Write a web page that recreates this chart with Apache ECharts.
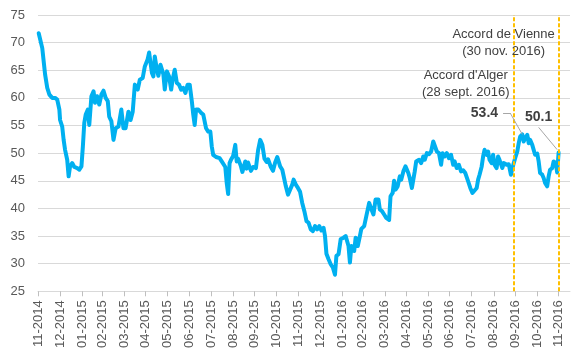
<!DOCTYPE html>
<html><head><meta charset="utf-8">
<script src="https://cdn.jsdelivr.net/npm/echarts@6/dist/echarts.min.js"></script>
<style>html,body{margin:0;padding:0;background:#fff}#c{width:579px;height:351px}</style>
</head><body><div id="c"></div>
<script>
const dates = [
'2014-12-01','2014-12-06','2014-12-08','2014-12-10','2014-12-13','2014-12-16','2014-12-20','2014-12-24','2014-12-27','2014-12-30','2014-12-31',
'2015-01-03','2015-01-05','2015-01-07','2015-01-10','2015-01-12','2015-01-14','2015-01-17','2015-01-20','2015-01-24','2015-01-27','2015-01-30',
'2015-02-01','2015-02-03','2015-02-05','2015-02-08','2015-02-10','2015-02-13','2015-02-16','2015-02-18','2015-02-21','2015-02-24','2015-02-27',
'2015-03-02','2015-03-05','2015-03-08','2015-03-10','2015-03-13','2015-03-16','2015-03-19','2015-03-23','2015-03-25','2015-03-27','2015-03-30',
'2015-04-02','2015-04-06','2015-04-09','2015-04-12','2015-04-15','2015-04-19','2015-04-22','2015-04-26','2015-04-29',
'2015-05-03','2015-05-05','2015-05-09','2015-05-11','2015-05-13','2015-05-16','2015-05-18','2015-05-21','2015-05-25','2015-05-27','2015-05-30',
'2015-06-02','2015-06-05','2015-06-07','2015-06-10','2015-06-13','2015-06-16','2015-06-19','2015-06-22','2015-06-25','2015-06-28',
'2015-07-01','2015-07-04','2015-07-06','2015-07-08','2015-07-10','2015-07-13','2015-07-17','2015-07-20','2015-07-24','2015-07-27','2015-07-30',
'2015-08-01','2015-08-03','2015-08-07','2015-08-12','2015-08-15','2015-08-20','2015-08-22','2015-08-24','2015-08-26','2015-08-28','2015-08-31',
'2015-09-03','2015-09-05','2015-09-07','2015-09-11','2015-09-13','2015-09-17','2015-09-19','2015-09-21','2015-09-25','2015-09-28',
'2015-10-02','2015-10-05','2015-10-08','2015-10-11','2015-10-14','2015-10-17','2015-10-19','2015-10-23','2015-10-26','2015-10-29',
'2015-11-01','2015-11-05','2015-11-08','2015-11-10','2015-11-13','2015-11-16','2015-11-19','2015-11-22','2015-11-24','2015-11-27','2015-11-30',
'2015-12-03','2015-12-06','2015-12-09','2015-12-12','2015-12-15','2015-12-18','2015-12-21','2015-12-24','2015-12-27','2015-12-30',
'2016-01-02','2016-01-05','2016-01-07','2016-01-09','2016-01-12','2016-01-15','2016-01-18','2016-01-21','2016-01-23','2016-01-26','2016-01-29',
'2016-02-02','2016-02-05','2016-02-09','2016-02-11','2016-02-13','2016-02-17','2016-02-19','2016-02-22','2016-02-25','2016-02-27',
'2016-03-02','2016-03-05','2016-03-09','2016-03-12','2016-03-15','2016-03-18','2016-03-22','2016-03-24','2016-03-27','2016-03-30',
'2016-04-02','2016-04-06','2016-04-08','2016-04-11','2016-04-13','2016-04-15','2016-04-18','2016-04-21','2016-04-23','2016-04-26','2016-04-29',
'2016-05-03','2016-05-05','2016-05-08','2016-05-12','2016-05-14','2016-05-18','2016-05-21','2016-05-24','2016-05-26','2016-05-29',
'2016-06-01','2016-06-04','2016-06-07','2016-06-09','2016-06-12','2016-06-15','2016-06-18','2016-06-20','2016-06-23','2016-06-26','2016-06-29',
'2016-07-02','2016-07-05','2016-07-07','2016-07-10','2016-07-13','2016-07-16','2016-07-19','2016-07-22','2016-07-26','2016-07-29',
'2016-08-01','2016-08-03','2016-08-07','2016-08-09','2016-08-11','2016-08-14','2016-08-16','2016-08-18','2016-08-21','2016-08-23','2016-08-25','2016-08-28','2016-08-30',
'2016-09-01','2016-09-04','2016-09-06','2016-09-08','2016-09-12','2016-09-14','2016-09-18','2016-09-21','2016-09-24','2016-09-26','2016-09-28','2016-09-30',
'2016-10-03','2016-10-05','2016-10-07','2016-10-10','2016-10-12','2016-10-14','2016-10-17','2016-10-19','2016-10-21','2016-10-24','2016-10-26','2016-10-28','2016-10-31',
'2016-11-02','2016-11-04','2016-11-07','2016-11-09','2016-11-11','2016-11-14','2016-11-16','2016-11-18','2016-11-21','2016-11-23','2016-11-24','2016-11-26','2016-11-28','2016-11-30'
];
const prices = [
71.7,69.0,66.6,64.2,61.8,60.6,60.0,60.0,59.7,57.9,56.0,
54.8,52.4,50.6,48.8,45.8,47.6,48.2,47.5,47.3,47.0,47.6,
51.2,55.5,57.0,57.9,55.1,60.3,61.2,59.1,60.3,58.8,60.6,
61.3,60.0,59.4,56.6,55.8,52.4,54.5,54.8,55.0,57.9,54.5,
54.5,57.5,56.0,57.5,62.4,61.5,63.3,63.6,65.7,
67.0,68.2,64.5,63.9,67.5,65.1,64.0,66.0,64.3,61.5,64.8,
63.9,61.5,63.3,65.1,62.7,62.4,61.5,61.8,60.9,62.4,
62.4,59.4,57.0,55.1,57.9,57.9,57.3,57.0,54.5,53.9,53.9,
51.2,49.7,49.3,49.1,48.5,47.5,44.6,42.6,48.2,48.8,49.5,
51.5,48.5,49.0,47.6,46.6,48.5,47.2,48.3,46.8,47.5,
47.3,50.5,52.4,51.5,49.0,48.4,48.9,47.5,46.8,48.3,
49.3,47.6,47.0,46.7,44.0,42.5,43.4,44.3,45.2,44.3,43.7,
43.0,41.0,39.5,37.7,37.4,36.2,35.9,36.8,36.2,36.8,
36.0,36.5,35.0,31.8,30.8,29.9,29.3,28.0,31.4,31.7,34.4,
34.7,35.0,33.2,30.2,33.2,32.3,34.7,33.2,35.0,36.3,
36.8,38.6,41.0,39.9,38.9,41.6,41.6,39.8,39.5,38.9,
38.3,37.9,42.2,42.8,45.0,43.4,44.0,45.8,45.2,46.7,47.6,
46.4,45.5,43.7,46.7,48.5,48.8,48.2,49.4,48.8,50.0,
49.8,50.3,52.1,51.8,50.3,50.0,47.9,50.0,49.4,50.0,49.1,
49.7,47.9,48.5,47.3,47.9,46.7,46.9,46.4,44.9,43.7,
42.8,43.1,43.7,45.2,46.1,47.6,49.4,50.6,49.7,50.3,48.8,48.2,49.7,
47.9,47.3,49.4,48.8,47.3,48.2,47.9,48.0,46.1,46.4,48.2,49.1,
50.3,51.8,53.0,53.4,52.1,52.7,53.3,51.8,52.4,51.5,50.6,49.7,49.9,
48.5,46.4,46.1,45.5,44.6,44.0,45.8,47.0,47.3,48.5,48.8,48.2,46.5,50.1
];
const tickDates = ['2014-11-30','2014-12-31','2015-01-31','2015-02-28','2015-03-31','2015-04-30','2015-05-31','2015-06-30','2015-07-31','2015-08-31','2015-09-30','2015-10-31','2015-11-30','2015-12-31','2016-01-31','2016-02-29','2016-03-31','2016-04-30','2016-05-31','2016-06-30','2016-07-31','2016-08-31','2016-09-30','2016-10-31','2016-11-30'];
const eventDates = ['2016-09-28','2016-11-30'];
const eventLabels = ["Accord d'Alger\n(28 sept. 2016)", "Accord de Vienne\n(30 nov. 2016)"];
const calloutDates = ['2016-10-10','2016-11-30'];
const calloutValues = [53.4, 50.1];
const yMin = 25, yMax = 75, yStep = 5;

function ts(s){ const p = s.split('-').map(Number); return new Date(p[0], p[1]-1, p[2]).getTime(); }
const seriesData = dates.map((d,i)=>[ts(d), prices[i]]);
const FONT = "'Liberation Sans', Arial, sans-serif";
const pad = n => (n<10?'0':'')+n;

const chart = echarts.init(document.getElementById('c'), null, {renderer:'canvas'});
const leader = {color:'#a6a6a6', width:1, type:'solid'};
const eventLine = {color:'#FFC000', width:2, type:[4,2]};
chart.setOption({
  animation:false,
  grid:{left:38, right:9, top:15, bottom:59, containLabel:false},
  xAxis:{
    type:'value', min: ts('2014-11-30'), max: ts('2016-12-16'), scale:true,
    axisLine:{show:true, onZero:false, lineStyle:{color:'#d9d9d9', width:1}},
    axisTick:{show:true, length:5, lineStyle:{color:'#bfbfbf'}, customValues: tickDates.map(ts)},
    axisLabel:{rotate:90, margin:9, color:'#595959', fontSize:13, fontFamily:FONT,
      customValues: tickDates.map(ts),
      formatter: v => { const d = new Date(v); return pad(d.getMonth()+1)+'-'+d.getFullYear(); }},
    splitLine:{show:false}
  },
  yAxis:{
    type:'value', min:yMin, max:yMax, interval:yStep,
    axisLine:{show:false}, axisTick:{show:false},
    axisLabel:{color:'#595959', fontSize:13, fontFamily:FONT, margin:13},
    splitLine:{lineStyle:{color:'#d9d9d9', width:1}}
  },
  series:[{
    type:'line', data:seriesData, showSymbol:false, smooth:false,
    lineStyle:{color:'#00B0F0', width:4, join:'round', cap:'round'},
    itemStyle:{color:'#00B0F0'},
    z:3,
    markLine:{
      silent:true, symbol:['none','none'], label:{show:false}, animation:false,
      data:[
        {xAxis: ts(eventDates[0]), lineStyle:eventLine},
        {xAxis: ts(eventDates[1]), lineStyle:eventLine},
        [{coord:[ts('2016-09-13'),57.26], lineStyle:leader},{coord:[ts('2016-09-23'),57.26]}],
        [{coord:[ts('2016-09-23'),57.26], lineStyle:leader},{coord:[ts(calloutDates[0]),calloutValues[0]]}],
        [{coord:[ts('2016-11-02'),54.66], lineStyle:leader},{coord:[ts('2016-11-28'),50.63]}]
      ]
    },
    markPoint:{
      silent:true, symbol:'circle', symbolSize:0, animation:false,
      data:[
        {coord:[ts(eventDates[0]),62.5], label:{show:true, formatter:eventLabels[0], position:'inside', offset:[-48,0], align:'center', verticalAlign:'middle', color:'#404040', fontSize:13, lineHeight:17, fontFamily:FONT}},
        {coord:[ts(eventDates[1]),69.9], label:{show:true, formatter:eventLabels[1], position:'inside', offset:[-55,0], align:'center', verticalAlign:'middle', color:'#404040', fontSize:13, lineHeight:17, fontFamily:FONT}},
        {coord:[ts('2016-09-13'),57.26], label:{show:true, formatter:String(calloutValues[0]), position:'left', distance:5, color:'#404040', fontSize:14, fontWeight:'bold', fontFamily:FONT}},
        {coord:[ts('2016-11-02'),54.66], label:{show:true, formatter:String(calloutValues[1]), position:'top', distance:3, color:'#404040', fontSize:14, fontWeight:'bold', fontFamily:FONT}}
      ]
    }
  }]
});
</script></body></html>
